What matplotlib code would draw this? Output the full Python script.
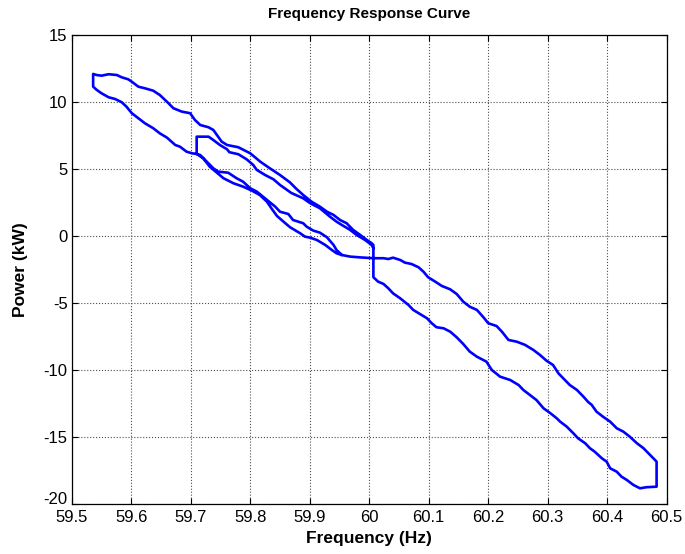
import numpy as np
import matplotlib
matplotlib.use("Agg")
import matplotlib.pyplot as plt
import matplotlib.transforms as mtransforms

plt.rcParams['font.family'] = ['Liberation Sans', 'DejaVu Sans']
plt.rcParams['axes.unicode_minus'] = False

# Upper edge of the large left loop (from 59.54 Hz corner to 60 Hz)
freq_a = [59.536, 59.542, 59.550, 59.562, 59.576, 59.584, 59.595, 59.601, 59.612, 59.623,
          59.637, 59.648, 59.660, 59.671, 59.685, 59.699, 59.707, 59.716, 59.730, 59.738,
          59.744, 59.752, 59.761, 59.780, 59.800, 59.817, 59.833, 59.850, 59.867, 59.877,
          59.889, 59.903, 59.917, 59.929, 59.940, 59.951, 59.962, 59.973, 59.985, 59.996,
          60.004, 60.007]
power_a = [12.09, 12.01, 11.96, 12.07, 12.01, 11.84, 11.69, 11.51, 11.14, 11.02,
           10.84, 10.52, 10.02, 9.53, 9.28, 9.16, 8.66, 8.28, 8.11, 7.91,
           7.54, 7.04, 6.79, 6.62, 6.17, 5.54, 5.05, 4.55, 3.99, 3.54,
           3.06, 2.56, 2.19, 1.81, 1.57, 1.19, 0.95, 0.45, 0.07, -0.30,
           -0.54, -0.67]

# Lower edge of the large left loop (from 59.54 Hz corner to 59.71 Hz)
freq_b = [59.536, 59.542, 59.550, 59.562, 59.573, 59.584, 59.592, 59.601, 59.612, 59.623,
          59.637, 59.648, 59.660, 59.674, 59.682, 59.693, 59.702, 59.710]
power_b = [11.14, 10.90, 10.65, 10.35, 10.22, 9.98, 9.65, 9.16, 8.78, 8.41,
           8.04, 7.66, 7.34, 6.79, 6.66, 6.29, 6.17, 6.12]

# Upper edge of the inner loop (from 59.71 Hz corner to 60 Hz)
freq_c = [59.710, 59.730, 59.738, 59.749, 59.761, 59.765, 59.780, 59.794, 59.805, 59.811,
          59.825, 59.839, 59.850, 59.869, 59.889, 59.901, 59.917, 59.934, 59.945, 59.954,
          59.968, 59.979, 59.993, 60.004, 60.007]
power_c = [7.41, 7.41, 7.16, 6.79, 6.47, 6.25, 6.10, 5.72, 5.30, 4.93,
           4.55, 4.23, 3.81, 3.21, 2.81, 2.44, 2.07, 1.44, 1.07, 0.82,
           0.45, 0.07, -0.30, -0.67, -0.92]

# Two lower traces from 59.71 Hz down to the -1.7 kW plateau
freq_l1 = [59.710, 59.716, 59.727, 59.738, 59.746, 59.763, 59.777, 59.788, 59.800, 59.811,
           59.828, 59.842, 59.850, 59.864, 59.872, 59.889, 59.895, 59.906, 59.917, 59.929,
           59.940, 59.945, 59.954]
power_l1 = [6.12, 6.04, 5.54, 5.05, 4.80, 4.72, 4.31, 4.05, 3.56, 3.31,
            2.69, 2.19, 1.81, 1.64, 1.19, 0.95, 0.69, 0.40, 0.25, -0.10,
            -0.67, -1.04, -1.42]
freq_l2 = [59.710, 59.721, 59.732, 59.744, 59.755, 59.772, 59.788, 59.803, 59.816, 59.828,
           59.837, 59.845, 59.859, 59.867, 59.884, 59.892, 59.901, 59.912, 59.926, 59.937,
           59.945, 59.954]
power_l2 = [6.12, 5.80, 5.17, 4.72, 4.31, 3.93, 3.68, 3.38, 3.06, 2.56,
            1.98, 1.49, 0.95, 0.65, 0.20, -0.05, -0.13, -0.30, -0.67, -1.04,
            -1.29, -1.42]

# Upper edge of the right loop (plateau, then out to 60.48 Hz)
freq_r1 = [59.954, 59.968, 59.985, 60.007, 60.024, 60.032, 60.040, 60.052, 60.060, 60.071,
           60.083, 60.091, 60.099, 60.111, 60.122, 60.136, 60.147, 60.158, 60.169, 60.181,
           60.192, 60.200, 60.214, 60.223, 60.234, 60.248, 60.262, 60.276, 60.287, 60.298,
           60.309, 60.318, 60.329, 60.337, 60.349, 60.360, 60.368, 60.374, 60.382, 60.393,
           60.405, 60.416, 60.427, 60.438, 60.450, 60.461, 60.472, 60.483]
power_r1 = [-1.42, -1.54, -1.60, -1.66, -1.66, -1.72, -1.62, -1.79, -1.99, -2.09,
            -2.34, -2.66, -3.08, -3.41, -3.73, -3.98, -4.33, -4.90, -5.28, -5.52,
            -6.07, -6.51, -6.72, -7.14, -7.76, -7.89, -8.13, -8.51, -8.88, -9.31,
            -9.63, -10.25, -10.75, -11.12, -11.49, -11.99, -12.39, -12.61, -13.11, -13.49,
            -13.86, -14.35, -14.60, -14.98, -15.47, -15.84, -16.34, -16.84]

# Lower edge of the right loop (from the 60 Hz step out to 60.48 Hz)
freq_r2 = [60.007, 60.015, 60.024, 60.032, 60.040, 60.052, 60.057, 60.066, 60.074, 60.085,
           60.097, 60.105, 60.113, 60.125, 60.136, 60.147, 60.158, 60.169, 60.181, 60.197,
           60.206, 60.220, 60.237, 60.251, 60.259, 60.270, 60.281, 60.293, 60.304, 60.315,
           60.321, 60.332, 60.343, 60.351, 60.363, 60.371, 60.379, 60.391, 60.399, 60.405,
           60.416, 60.424, 60.433, 60.444, 60.455, 60.466, 60.483]
power_r2 = [-3.08, -3.41, -3.58, -3.90, -4.28, -4.65, -4.83, -5.15, -5.52, -5.82,
            -6.14, -6.51, -6.81, -6.89, -7.14, -7.56, -8.06, -8.63, -9.01, -9.38,
            -10.00, -10.50, -10.75, -11.12, -11.49, -11.87, -12.24, -12.86, -13.21, -13.60,
            -13.86, -14.23, -14.72, -15.10, -15.47, -15.84, -16.10, -16.59, -16.84, -17.34,
            -17.59, -17.96, -18.21, -18.58, -18.83, -18.75, -18.71]

x_ticks = [59.5, 59.6, 59.7, 59.8, 59.9, 60.0, 60.1, 60.2, 60.3, 60.4, 60.5]
x_tick_labels = ["59.5", "59.6", "59.7", "59.8", "59.9", "60", "60.1", "60.2", "60.3", "60.4", "60.5"]
y_ticks = [-20, -15, -10, -5, 0, 5, 10, 15]
y_tick_labels = ["-20", "-15", "-10", "-5", "0", "5", "10", "15"]

# Build one continuous trace
freq = np.concatenate([freq_c[::-1], freq_l1, freq_l2[::-1], freq_b[::-1],
                       freq_a, freq_r2, freq_r1[::-1]])
power = np.concatenate([power_c[::-1], power_l1, power_l2[::-1], power_b[::-1],
                        power_a, power_r2, power_r1[::-1]])

fig = plt.figure(figsize=(6.85, 5.54), dpi=100)
ax = fig.add_axes([0.1047, 0.0903, 0.8686, 0.8466])
ax.plot(freq, power, color=(0, 0, 1), linewidth=1.9, solid_joinstyle='round')

ax.set_xlim(59.5, 60.5)
ax.set_ylim(-20, 15)
ax.set_xticks(x_ticks)
ax.set_xticklabels(x_tick_labels)
ax.set_yticks(y_ticks)
ax.set_yticklabels(y_tick_labels)
ax.tick_params(direction='in', top=True, right=True, length=4, width=0.8,
               labelsize=12, colors='black')
ax.tick_params(axis='x', pad=4)
ax.tick_params(axis='y', pad=3)
ax.grid(True, linestyle=':', color='0.3', linewidth=0.8)
for s in ax.spines.values():
    s.set_linewidth(0.9)
    s.set_color('black')

# lift the lowest y label slightly, as in the reference
lowest = ax.get_yticklabels()[0]
lowest.set_transform(lowest.get_transform() +
                     mtransforms.ScaledTranslation(0, 6 / 100, fig.dpi_scale_trans))

ax.set_title("Frequency Response Curve", fontsize=11, fontweight='bold', pad=12)
ax.set_xlabel("Frequency (Hz)", fontsize=12.5, fontweight='bold', labelpad=5)
ax.set_ylabel("Power (kW)", fontsize=12.5, fontweight='bold', labelpad=11)

fig.savefig("out.png", dpi=100)
